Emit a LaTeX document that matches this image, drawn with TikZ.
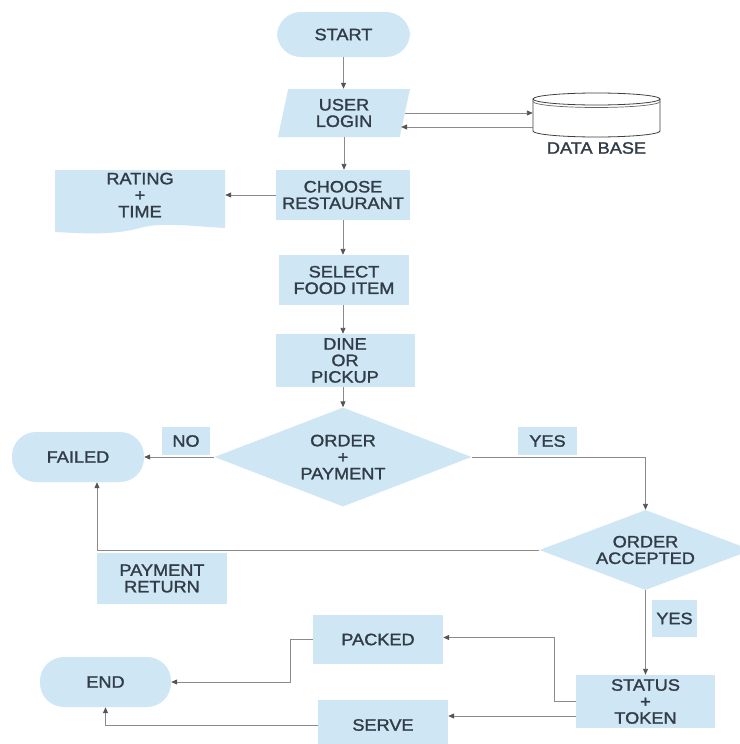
\documentclass[tikz,border=0pt]{standalone}
\usepackage{fontspec}
\setmainfont{Liberation Sans}[FakeStretch=1.1,FakeBold=1.5]
\usetikzlibrary{shapes.geometric,arrows.meta}
\definecolor{boxfill}{HTML}{CFE6F5}
\definecolor{txt}{HTML}{323C46}
\definecolor{ln}{HTML}{8A8A8A}
\definecolor{tip}{HTML}{555555}
\tikzset{
  every node/.style={text=txt,font=\fontsize{16.5}{16.5}\selectfont,align=center,inner sep=0pt},
  box/.style={rectangle,fill=boxfill},
  pill/.style={rectangle,fill=boxfill,rounded corners=24pt},
  dec/.style={diamond,fill=boxfill,aspect=2.6},
  conn/.style={draw=ln,line width=0.9pt,-{Triangle[length=6pt,width=5pt,fill=tip,color=tip]}},
  plain/.style={draw=ln,line width=0.9pt},
}
\begin{document}
\begin{tikzpicture}[x=1pt,y=-1pt]
\useasboundingbox[fill=white] (0,0) rectangle (739,744);
% terminals and boxes
\node[pill,minimum width=133pt,minimum height=45pt] (start) at (343.5,34.5) {START};
\node[trapezium,fill=boxfill,trapezium left angle=70,trapezium right angle=110,minimum width=132pt,minimum height=48pt,trapezium stretches body] (login) at (344,113) {USER\\LOGIN};
% database cylinder
\node[rectangle,minimum width=127pt,minimum height=44pt] (db) at (596.5,115) {};
\fill[white] (533,99) -- (533,131) arc[start angle=180,end angle=360,x radius=63.5,y radius=-6] -- (660,99) -- cycle;
\draw[line width=0.8pt,black!75] (533,99) -- (533,131) arc[start angle=180,end angle=360,x radius=63.5,y radius=-6] -- (660,99);
\draw[line width=0.8pt,black!75,fill=white] (596.5,99) ellipse[x radius=63.5,y radius=6];
\draw[line width=0.7pt,black!60] (533,101.5) arc[start angle=180,end angle=360,x radius=63.5,y radius=-6];
\node (dblabel) at (596.5,148) {DATA BASE};
\node[box,minimum width=134pt,minimum height=50pt] (choose) at (343,195) {CHOOSE\\RESTAURANT};
% document shape
\fill[boxfill] (55,170) -- (225,170) -- (225,228) .. controls (190,226) and (160,222) .. (140,228) .. controls (110,236) and (80,233) .. (55,232) -- cycle;
\node[rectangle,minimum width=170pt,minimum height=56pt] (rating) at (140,195) {RATING\\+\\TIME};
\node[box,minimum width=130pt,minimum height=50pt] (select) at (344,280) {SELECT\\FOOD ITEM};
\node[box,minimum width=139pt,minimum height=53pt] (dine) at (345,360.5) {DINE\\OR\\PICKUP};
\node[dec,minimum width=257pt,minimum height=99pt] (pay) at (343,457) {ORDER\\+\\PAYMENT};
\node[box,minimum width=48pt,minimum height=28pt] (no) at (186,441) {NO};
\node[pill,minimum width=132pt,minimum height=50pt] (failed) at (78,457) {FAILED};
\node[box,minimum width=59pt,minimum height=28pt] (yes1) at (547.5,441) {YES};
\node[dec,minimum width=212pt,minimum height=80pt] (acc) at (645.5,550) {ORDER\\ACCEPTED};
\node[box,minimum width=130pt,minimum height=51pt] (payret) at (162,578.5) {PAYMENT\\RETURN};
\node[box,minimum width=45pt,minimum height=37pt] (yes2) at (674.5,618.5) {YES};
\node[box,minimum width=139pt,minimum height=53pt] (status) at (645.5,701.5) {STATUS\\+\\TOKEN};
\node[box,minimum width=130pt,minimum height=49pt] (packed) at (378,639.5) {PACKED};
\node[pill,minimum width=131pt,minimum height=50pt] (end) at (105.5,682) {END};
\node[box,minimum width=130pt,minimum height=50pt] (serve) at (383,725) {SERVE};
% connectors
\draw[conn] (start.south) -- (start.south |- login.north);
\draw[conn] (login.east) -- (login.east -| db.west);
\coordinate (dbout) at ([yshift=-12pt]db.west);
\draw[conn] (dbout) -- ([xshift=-4pt]dbout -| login.east);
\draw[conn] (login.south) -- (login.south |- choose.north);
\draw[conn] (choose.west) -- (choose.west -| rating.east);
\draw[conn] (choose.south) -- (choose.south |- select.north);
\draw[conn] (choose.south |- select.south) -- (choose.south |- dine.north);
\draw[conn] (choose.south |- dine.south) -- (pay.north);
\draw[conn] (pay.west) -- (failed.east);
\draw[conn] (pay.east) -| (acc.north);
\draw[conn] (acc.west) -| ([xshift=19pt]failed.south);
\draw[conn] (acc.south) -- (acc.south |- status.north);
\draw[conn] (status.west) -- ++(-21pt,0) |- ([yshift=2pt]packed.east);
\draw[conn] (packed.west) -- ++(-22pt,0) |- (end.east);
\coordinate (sv) at ([yshift=-14.5pt]status.west);
\draw[conn] (sv) -- (sv -| serve.east);
\draw[conn] (serve.west) -| (end.south);
\end{tikzpicture}
\end{document}
